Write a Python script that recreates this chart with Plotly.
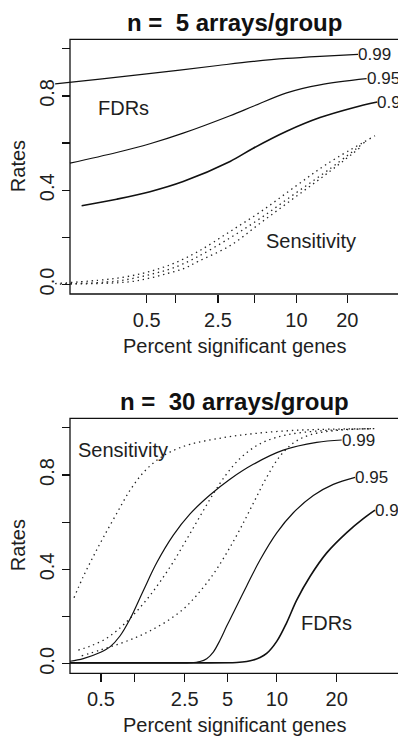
from statistics import NormalDist
import plotly.graph_objects as go

# ---------------- data (percent significant genes, rate) ----------------
tick_pct = [0.5, 1, 2.5, 5, 10, 20]
tick_text_top = ["0.5", "", "2.5", "", "10", "20"]
tick_text_bot = ["0.5", "", "2.5", "5", "10", "20"]
y_tick_vals = [0.0, 0.2, 0.4, 0.6, 0.8, 1.0]
y_tick_text = ["0.0", "", "0.4", "", "0.8", ""]
fdr_labels = ["0.99", "0.95", "0.9"]
panel_titles = ["n = \u00a05 arrays/group", "n = \u00a030 arrays/group"]

# n = 5 : FDR curves
pct5_fdr99 = [0.038, 0.144, 0.5, 2.5, 4.9, 8.6, 14.06, 22.7]
rate5_fdr99 = [0.851, 0.871, 0.893, 0.929, 0.946, 0.959, 0.968, 0.976]
pct5_fdr95 = [0.06, 0.229, 0.543, 1.19, 3.18, 4.9, 8.6, 14.06, 25.0]
rate5_fdr95 = [0.515, 0.560, 0.597, 0.642, 0.716, 0.756, 0.813, 0.847, 0.873]
pct5_fdr90 = [0.085, 0.229, 0.543, 1.19, 3.18, 4.9, 8.6, 14.06, 21.48, 28.02]
rate5_fdr90 = [0.334, 0.362, 0.394, 0.437, 0.522, 0.578, 0.650, 0.708, 0.750, 0.774]
# n = 5 : sensitivity curves
pct5_sens1 = [0.038, 0.136, 0.264, 0.444, 0.661, 0.988, 1.65, 3.18, 5.69, 9.79, 15.73, 27.36]
rate5_sens1 = [0.004, 0.018, 0.030, 0.047, 0.066, 0.092, 0.140, 0.225, 0.312, 0.415, 0.515, 0.631]
pct5_sens2 = [0.044, 0.219, 0.372, 0.614, 0.915, 1.545, 3.18, 5.69, 9.79, 15.73, 25.0]
rate5_sens2 = [0.002, 0.014, 0.028, 0.048, 0.068, 0.112, 0.198, 0.285, 0.386, 0.486, 0.610]
pct5_sens3 = [0.0515, 0.312, 0.52, 0.845, 1.24, 1.65, 3.18, 5.69, 9.79, 15.73, 23.2]
rate5_sens3 = [0.002, 0.011, 0.026, 0.048, 0.070, 0.098, 0.165, 0.265, 0.370, 0.475, 0.580]

# n = 30 : FDR curves
pct30_fdr99 = [0.2525, 0.3405, 0.4895, 0.604, 0.742, 0.908, 1.177, 1.516, 2.05, 2.74, 3.8, 5.19, 7.28, 10.85, 16.14, 21.05]
rate30_fdr99 = [0.011, 0.022, 0.048, 0.072, 0.118, 0.190, 0.310, 0.428, 0.545, 0.635, 0.715, 0.782, 0.845, 0.905, 0.938, 0.948]
pct30_fdr95 = [0.2525, 1.337, 2.74, 3.235, 3.61, 4.01, 4.455, 4.94, 5.45, 6.63, 7.99, 9.98, 12.29, 15.54, 19.31, 24.0]
rate30_fdr95 = [0.004, 0.004, 0.005, 0.010, 0.022, 0.050, 0.100, 0.160, 0.215, 0.330, 0.440, 0.555, 0.640, 0.713, 0.760, 0.790]
pct30_fdr90 = [0.2525, 3.235, 5.74, 6.63, 7.28, 7.99, 8.74, 9.98, 11.33, 12.8, 14.97, 18.01, 22.13, 25.92, 28.79]
rate30_fdr90 = [0.004, 0.004, 0.006, 0.010, 0.016, 0.027, 0.044, 0.095, 0.175, 0.270, 0.370, 0.470, 0.556, 0.615, 0.651]
# n = 30 : sensitivity curves
pct30_sens1 = [0.2765, 0.3405, 0.424, 0.525, 0.694, 0.908, 1.177, 1.516, 1.93, 2.74, 4.69, 7.28, 11.33, 16.74, 28.79]
rate30_sens1 = [0.280, 0.370, 0.455, 0.535, 0.637, 0.735, 0.810, 0.862, 0.897, 0.930, 0.958, 0.975, 0.987, 0.993, 0.996]
pct30_sens2 = [0.3046, 0.3945, 0.525, 0.694, 0.939, 1.256, 1.611, 2.05, 2.59, 3.235, 4.01, 4.94, 6.02, 7.28, 8.74, 11.33, 16.74, 27.5]
rate30_sens2 = [0.058, 0.075, 0.100, 0.140, 0.200, 0.272, 0.347, 0.432, 0.528, 0.625, 0.720, 0.805, 0.870, 0.915, 0.945, 0.970, 0.987, 0.996]
pct30_sens3 = [0.3286, 0.4895, 0.742, 1.036, 1.337, 1.82, 2.44, 3.06, 4.01, 4.94, 6.02, 7.28, 8.74, 10.41, 12.29, 14.97, 20.69, 28.79]
rate30_sens3 = [0.034, 0.058, 0.086, 0.113, 0.140, 0.180, 0.232, 0.290, 0.380, 0.470, 0.570, 0.680, 0.790, 0.880, 0.935, 0.970, 0.990, 0.996]

# ---------------- helpers / layout constants ----------------
W, H = 398, 739
FONT = "Liberation Sans, Arial, Helvetica, sans-serif"
TXT = "#1e1e1e"


def probit(pcts):
    nd = NormalDist()
    return [nd.inv_cdf(p / 100.0) for p in pcts]


def px_x(px):
    return px / W


def px_y(py):
    return 1 - py / H


panels = [
    dict(top=39.3, bottom=294.0, xl=50.0, xr_pct=(0.0323, 34.34), xa="x", ya="y",
         ticktext=tick_text_top,
         fdr=[(pct5_fdr99, rate5_fdr99, 1.2), (pct5_fdr95, rate5_fdr95, 1.2), (pct5_fdr90, rate5_fdr90, 1.6)],
         sens=[(pct5_sens1, rate5_sens1), (pct5_sens2, rate5_sens2), (pct5_sens3, rate5_sens3)],
         fdr_lbl=(123.3, 108), sens_lbl=(310.8, 241), title_y=22),
    dict(top=418.3, bottom=673.3, xl=70.0, xr_pct=(0.2525, 34.81), xa="x2", ya="y2",
         ticktext=tick_text_bot,
         fdr=[(pct30_fdr99, rate30_fdr99, 1.2), (pct30_fdr95, rate30_fdr95, 1.2), (pct30_fdr90, rate30_fdr90, 1.6)],
         sens=[(pct30_sens1, rate30_sens1), (pct30_sens2, rate30_sens2), (pct30_sens3, rate30_sens3)],
         fdr_lbl=(326.7, 622.5), sens_lbl=(123.3, 450), title_y=401),
]

fig = go.Figure()
annotations = []
shapes = []
layout_axes = {}

for i, P in enumerate(panels):
    xa, ya = P["xa"], P["ya"]
    for pc, rt in P["sens"]:
        fig.add_trace(go.Scatter(
            x=probit(pc), y=rt, mode="lines", xaxis=xa, yaxis=ya,
            line=dict(color="#222222", width=1.3, dash="1.4px,3.8px", shape="spline", smoothing=1.0),
            hoverinfo="skip", showlegend=False))
    for (pc, rt, lw), lab in zip(P["fdr"], fdr_labels):
        zx = probit(pc)
        fig.add_trace(go.Scatter(
            x=zx, y=rt, mode="lines", xaxis=xa, yaxis=ya,
            line=dict(color="#111111", width=lw, shape="spline", smoothing=1.0),
            hoverinfo="skip", showlegend=False))
        annotations.append(dict(
            x=zx[-1], y=rt[-1], xref=xa, yref=ya, text=lab, showarrow=False,
            xanchor="left", yanchor="middle", xshift=-2,
            font=dict(family=FONT, size=17, color=TXT)))

    ydom = [px_y(P["bottom"]), px_y(P["top"])]
    xkey = "xaxis" if i == 0 else "xaxis2"
    ykey = "yaxis" if i == 0 else "yaxis2"
    layout_axes[xkey] = dict(
        domain=[px_x(P["xl"]), 1.0], range=probit(list(P["xr_pct"])), anchor=ya,
        showline=False, showgrid=False, zeroline=False,
        tickmode="array", tickvals=probit(tick_pct), ticktext=P["ticktext"],
        ticks="outside", ticklen=8, tickwidth=1.2, tickcolor="#111111",
        tickfont=dict(family=FONT, size=20, color=TXT), fixedrange=True)
    layout_axes[ykey] = dict(
        domain=ydom, range=[-0.04, 1.04], anchor="free", position=px_x(70),
        showline=False, showgrid=False, zeroline=False,
        tickmode="array", tickvals=y_tick_vals, ticktext=y_tick_text,
        ticks="outside", ticklen=8, tickwidth=1.2, tickcolor="#111111", tickangle=-90,
        tickfont=dict(family=FONT, size=20, color=TXT), fixedrange=True)

    shapes.append(dict(type="rect", xref="paper", yref="paper",
                       x0=px_x(70), x1=1.01, y0=ydom[0], y1=ydom[1],
                       line=dict(color="#111111", width=1.3), fillcolor="rgba(0,0,0,0)", layer="above"))

    mid_y = (P["top"] + P["bottom"]) / 2
    annotations += [
        dict(x=px_x(234), y=px_y(P["title_y"]), xref="paper", yref="paper", text="<b>%s</b>" % panel_titles[i],
             showarrow=False, xanchor="center", yanchor="middle",
             font=dict(family=FONT, size=24, color="#111111")),
        dict(x=px_x(234), y=px_y(P["bottom"] + 52), xref="paper", yref="paper", text="Percent significant genes",
             showarrow=False, xanchor="center", yanchor="middle",
             font=dict(family=FONT, size=20, color=TXT)),
        dict(x=px_x(17.5), y=px_y(mid_y), xref="paper", yref="paper", text="Rates", textangle=-90,
             showarrow=False, xanchor="center", yanchor="middle",
             font=dict(family=FONT, size=20, color=TXT)),
        dict(x=px_x(P["fdr_lbl"][0]), y=px_y(P["fdr_lbl"][1]), xref="paper", yref="paper", text="FDRs",
             showarrow=False, xanchor="center", yanchor="middle",
             font=dict(family=FONT, size=20, color=TXT)),
        dict(x=px_x(P["sens_lbl"][0]), y=px_y(P["sens_lbl"][1]), xref="paper", yref="paper", text="Sensitivity",
             showarrow=False, xanchor="center", yanchor="middle",
             font=dict(family=FONT, size=20, color=TXT)),
    ]

fig.update_layout(
    width=W, height=H, margin=dict(l=0, r=0, t=0, b=0),
    paper_bgcolor="white", plot_bgcolor="white",
    font=dict(family=FONT, color=TXT),
    annotations=annotations, shapes=shapes, showlegend=False,
    **layout_axes)

fig.write_html("out.html", config={"displayModeBar": False, "staticPlot": True})
